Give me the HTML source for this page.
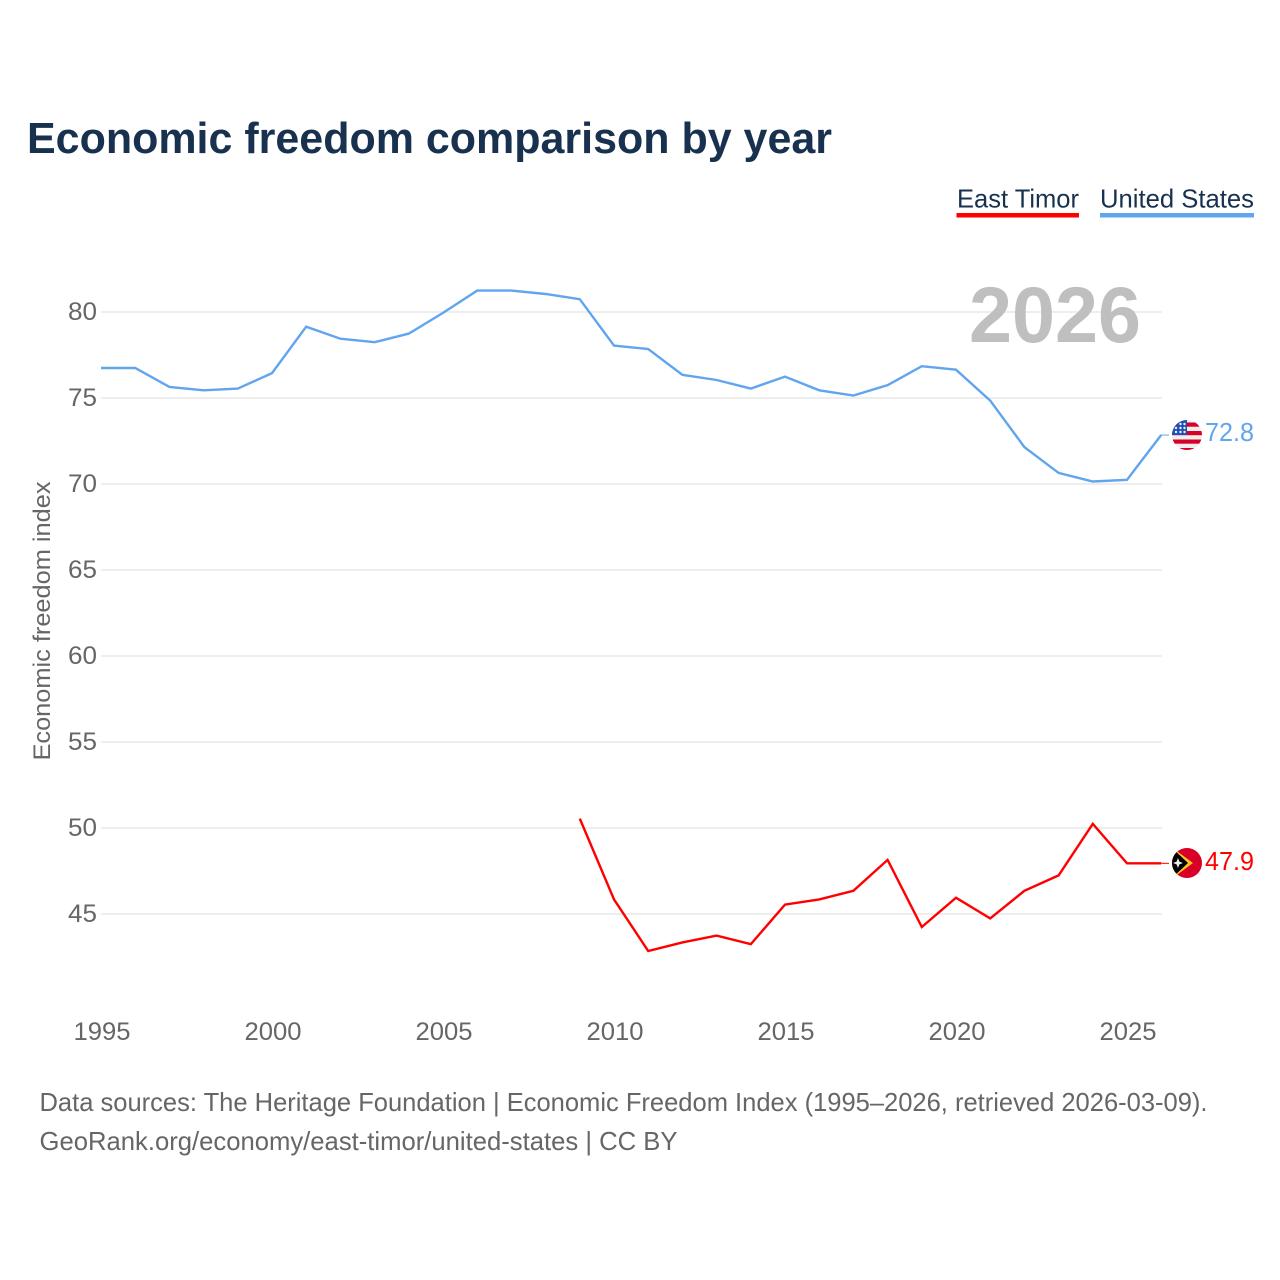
<!DOCTYPE html>
<html>
<head>
<meta charset="utf-8">
<style>
html,body{margin:0;padding:0;background:#fff;}
svg{display:block;}
text{font-family:"Liberation Sans",sans-serif;}
</style>
</head>
<body>
<svg id="chart" xmlns="http://www.w3.org/2000/svg" width="1280" height="1280" viewBox="0 0 1280 1280">
  <rect width="1280" height="1280" fill="#ffffff"/>
  <text x="27" y="153" font-size="44" font-weight="700" fill="#18314f" textLength="805" lengthAdjust="spacingAndGlyphs">Economic freedom comparison by year</text>
  <g>
    <text x="957" y="207.5" font-size="26" fill="#18314f" textLength="122" lengthAdjust="spacingAndGlyphs">East Timor</text>
    <rect x="956.5" y="213" width="122.5" height="4.5" fill="#ff0000"/>
  </g>
  <g>
    <text x="1100" y="207.5" font-size="26" fill="#18314f" textLength="154" lengthAdjust="spacingAndGlyphs">United States</text>
    <rect x="1100" y="213" width="154" height="4.5" fill="#60a5ee"/>
  </g>
  <g id="grid"></g>
  <g id="yticks"></g>
  <g id="xticks"></g>
  <text x="1055" y="342" text-anchor="middle" font-size="79" font-weight="700" fill="#bfbfbf" textLength="172" lengthAdjust="spacingAndGlyphs">2026</text>
  <text transform="translate(50 621) rotate(-90)" text-anchor="middle" font-size="24" fill="#666666" textLength="279" lengthAdjust="spacingAndGlyphs">Economic freedom index</text>
  <g id="series"></g>
  <defs>
    <clipPath id="us-clip"><circle cx="1187" cy="435" r="15"/></clipPath>
    <clipPath id="tl-clip"><circle cx="1187" cy="863" r="15"/></clipPath>
  </defs>
  <g id="flag-us" clip-path="url(#us-clip)">
    <rect x="1172" y="420" width="30" height="30" fill="#eeeeee"/>
    <rect x="1172" y="422.5" width="30" height="4.2" fill="#d80027"/>
    <rect x="1172" y="431" width="30" height="4.2" fill="#d80027"/>
    <rect x="1172" y="439.5" width="30" height="4.2" fill="#d80027"/>
    <rect x="1172" y="448" width="30" height="4" fill="#d80027"/>
    <rect x="1172" y="420" width="15" height="15" fill="#1f4fb3"/>
    <circle cx="1176" cy="428" r="1.2" fill="#eeeeee"/><circle cx="1180.5" cy="428" r="1.2" fill="#eeeeee"/><circle cx="1184.5" cy="428" r="1.2" fill="#eeeeee"/>
    <circle cx="1176" cy="432" r="1.2" fill="#eeeeee"/><circle cx="1180.5" cy="432" r="1.2" fill="#eeeeee"/><circle cx="1184.5" cy="432" r="1.2" fill="#eeeeee"/>
    <circle cx="1180.5" cy="424" r="1.2" fill="#eeeeee"/><circle cx="1184.5" cy="424" r="1.2" fill="#eeeeee"/>
  </g>
  <g id="flag-tl" clip-path="url(#tl-clip)">
    <rect x="1172" y="848" width="30" height="30" fill="#d80027"/>
    <polygon points="1170,846 1193,863 1170,880" fill="#ffc51e"/>
    <polygon points="1170,846 1188,863 1170,880" fill="#000000"/>
    <polygon points="1178,858 1179.4,861.6 1183,863 1179.4,864.4 1178,868 1176.6,864.4 1173,863 1176.6,861.6" fill="#eeeeee"/>
  </g>
  <text x="1205" y="441" font-size="26" fill="#60a5ee" textLength="49" lengthAdjust="spacingAndGlyphs">72.8</text>
  <text x="1205" y="870" font-size="26" fill="#ff0000" textLength="49" lengthAdjust="spacingAndGlyphs">47.9</text>
  <text x="39.5" y="1111" font-size="26" fill="#666666" textLength="1168" lengthAdjust="spacingAndGlyphs">Data sources: The Heritage Foundation | Economic Freedom Index (1995–2026, retrieved 2026-03-09).</text>
  <text x="39.5" y="1150" font-size="26" fill="#666666" textLength="638" lengthAdjust="spacingAndGlyphs">GeoRank.org/economy/east-timor/united-states | CC BY</text>
</svg>
<script>
var years = [1995,1996,1997,1998,1999,2000,2001,2002,2003,2004,2005,2006,2007,2008,2009,2010,2011,2012,2013,2014,2015,2016,2017,2018,2019,2020,2021,2022,2023,2024,2025,2026];
var unitedStates = [76.7,76.7,75.6,75.4,75.5,76.4,79.1,78.4,78.2,78.7,79.9,81.2,81.2,81.0,80.7,78.0,77.8,76.3,76.0,75.5,76.2,75.4,75.1,75.7,76.8,76.6,74.8,72.1,70.6,70.1,70.2,72.8];
var eastTimor = [null,null,null,null,null,null,null,null,null,null,null,null,null,null,50.5,45.8,42.8,43.3,43.7,43.2,45.5,45.8,46.3,48.1,44.2,45.9,44.7,46.3,47.2,50.2,47.9,47.9];
var yTicks = [80,75,70,65,60,55,50,45];
var xTicks = [1995,2000,2005,2010,2015,2020,2025];

var NS = 'http://www.w3.org/2000/svg';
function xScale(year){ return 101 + (year - 1995) * 34.2; }
function yScale(value){ return 311.2 + (80 - value) * 17.2; }
function make(tag, parent){
  var el = document.createElementNS(NS, tag);
  parent.appendChild(el);
  return el;
}
yTicks.forEach(function(t){
  var line = make('line', document.getElementById('grid'));
  
  
  line.setAttribute('x1', 101);
  line.setAttribute('x2', 1162);
  line.setAttribute('y1', yScale(t) + 0.8);
  line.setAttribute('y2', yScale(t) + 0.8);
  line.setAttribute('stroke', '#eeeeee');
  line.setAttribute('stroke-width', 2);
  var label = make('text', document.getElementById('yticks'));
  
  
  label.setAttribute('x', 97);
  label.setAttribute('y', yScale(t) + 8.8);
  label.setAttribute('text-anchor', 'end');
  label.setAttribute('font-size', 25);
  label.setAttribute('fill', '#666666');
  label.setAttribute('textLength', 29);
  label.setAttribute('lengthAdjust', 'spacingAndGlyphs');
  label.textContent = t;
});
xTicks.forEach(function(t){
  var label = make('text', document.getElementById('xticks'));
  
  
  label.setAttribute('x', xScale(t) + 1);
  label.setAttribute('y', 1040);
  label.setAttribute('text-anchor', 'middle');
  label.setAttribute('font-size', 25);
  label.setAttribute('fill', '#666666');
  label.setAttribute('textLength', 57);
  label.setAttribute('lengthAdjust', 'spacingAndGlyphs');
  label.textContent = t;
});
function linePath(values){
  var d = '';
  values.forEach(function(v, i){
    if (v === null) return;
    d += (d ? 'L' : 'M') + xScale(years[i]).toFixed(1) + ' ' + yScale(v).toFixed(1);
  });
  return d;
}
var usLine = make('path', document.getElementById('series'));


usLine.setAttribute('d', linePath(unitedStates));
usLine.setAttribute('fill', 'none');
usLine.setAttribute('stroke', '#60a5ee');
usLine.setAttribute('stroke-width', 2.4);
var tlLine = make('path', document.getElementById('series'));


tlLine.setAttribute('d', linePath(eastTimor));
tlLine.setAttribute('fill', 'none');
tlLine.setAttribute('stroke', '#ff0000');
tlLine.setAttribute('stroke-width', 2.4);
var usLead = make('line', document.getElementById('series'));


usLead.setAttribute('x1', xScale(2026));
usLead.setAttribute('x2', 1169);
usLead.setAttribute('y1', yScale(unitedStates[31]));
usLead.setAttribute('y2', yScale(unitedStates[31]));
usLead.setAttribute('stroke', '#60a5ee');
usLead.setAttribute('stroke-width', 1);
var tlLead = make('line', document.getElementById('series'));


tlLead.setAttribute('x1', xScale(2026));
tlLead.setAttribute('x2', 1169);
tlLead.setAttribute('y1', yScale(eastTimor[31]));
tlLead.setAttribute('y2', yScale(eastTimor[31]));
tlLead.setAttribute('stroke', '#ff0000');
tlLead.setAttribute('stroke-width', 1);
</script>
</body>
</html>
